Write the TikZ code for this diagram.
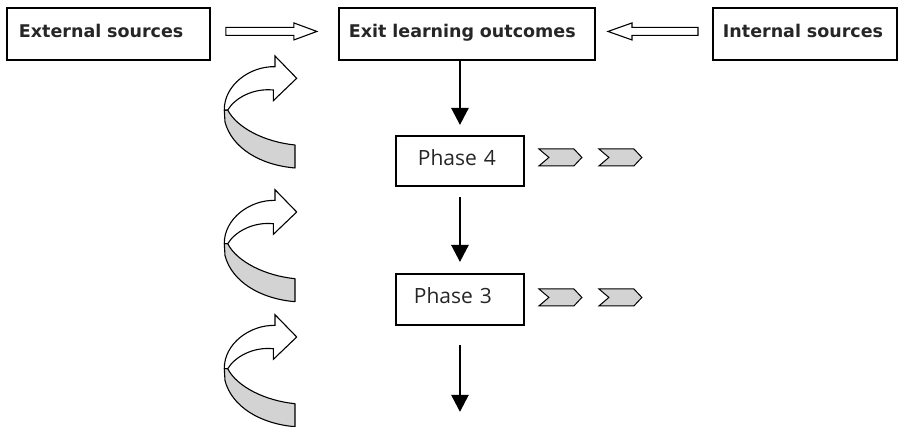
\documentclass[tikz,border=0pt]{standalone}
\usepackage{fontspec}
\setmainfont{Open Sans}
\newfontfamily\boldfont{DejaVu Sans}
\usetikzlibrary{arrows.meta,calc}
\definecolor{ribbon}{HTML}{D3D3D3}
\definecolor{ink}{HTML}{262626}
\begin{document}
\begin{tikzpicture}[x=1pt,y=-1pt,
  topbox/.style={draw, line width=1.9pt, anchor=north west, inner ysep=0pt, align=left,
    minimum height=52pt, text height=12pt, text depth=5pt,
    font=\boldfont\bfseries\fontsize{17.5}{20}\selectfont, text=ink},
  phasebox/.style={draw, line width=1.9pt, anchor=north west, inner ysep=0pt, align=left,
    text height=14pt, text depth=5pt,
    font=\fontsize{21}{24}\selectfont, text=ink},
  flow/.style={line width=2.6pt, -{Triangle[width=17pt,length=17pt]}},
  hollow/.style={draw, line width=1.1pt, fill=white, line join=miter},
  chev/.style={draw, line width=1pt, fill=ribbon},
  pics/chevron/.style={code={
    \draw[chev] (0,0) -- (35,0) -- (43,8.5) -- (35,17) -- (0,17) -- (10,8.5) -- cycle;}},
  pics/turnarrow/.style={code={
    \draw[line width=1.1pt, fill=ribbon, line join=round]
      (9.3,60) -- (10,72) .. controls (17,98) and (45,115) .. (80,118)
      -- (80,95) .. controls (50,92) and (22,78) .. (12.7,60) -- cycle;
    \draw[line width=1.1pt, fill=white, line join=miter]
      (60,16.7) -- (60,6) -- (81.7,28.3) -- (58.3,50.7) -- (58.3,40)
      .. controls (38,38) and (20,48) .. (12.7,60) -- (9.3,60)
      .. controls (9,35) and (35,16) .. (60,16.7) -- cycle;}}
]
\useasboundingbox (0,0) rectangle (900,427);

% top boxes
\node[topbox, minimum width=203pt, text width=179pt, inner xsep=12pt] (ext) at (6,7) {External sources};
\node[topbox, minimum width=256pt, text width=236pt, inner xsep=10pt] (exit) at (338,7) {Exit learning outcomes};
\node[topbox, minimum width=184pt, text width=164pt, inner xsep=10pt] (int) at (712,7) {Internal sources};

% phase boxes
\node[phasebox, minimum height=50pt, text width=84pt, inner xsep=22pt] (p4) at (395,135) {Phase 4};
\node[phasebox, minimum height=51pt, text width=92pt, inner xsep=18pt] (p3) at (395,273) {Phase 3};

% hollow arrows
\coordinate (r0) at ($(ext.east)+(15,-2.5)$);
\draw[hollow] (r0) ++(0,-4) -- ++(68,0) -- ++(0,-4.5) -- ++(23,8.5) -- ++(-23,8.5)
  -- ++(0,-4.5) -- ++(-68,0) -- cycle;
\coordinate (l0) at ($(int.west)+(-14,-2.5)$);
\draw[hollow] (l0) ++(0,-4) -- ++(-66,0) -- ++(0,-4.5) -- ++(-24,8.5) -- ++(24,8.5)
  -- ++(0,-4.5) -- ++(66,0) -- cycle;

% vertical flow arrows
\draw[flow] (p4.north |- exit.south) -- ($(p4.north)+(0,-10)$);
\draw[flow] ($(p4.south)+(0,10)$) -- ($(p3.north)+(0,-11)$);
\coordinate (endp) at ($(p3.south)+(0,86)$);
\draw[flow] ($(p3.south)+(0,19)$) -- (endp);

% chevrons
\pic at ($(p4.east)+(14,-12)$) {chevron};
\pic at ($(p4.east)+(74,-12)$) {chevron};
\pic at ($(p3.east)+(14,-10.5)$) {chevron};
\pic at ($(p3.east)+(74,-10.5)$) {chevron};

% curved ribbon arrows
\pic at (215,50) {turnarrow};
\pic at (215,183.7) {turnarrow};
\pic at (215,308.7) {turnarrow};
\end{tikzpicture}
\end{document}
